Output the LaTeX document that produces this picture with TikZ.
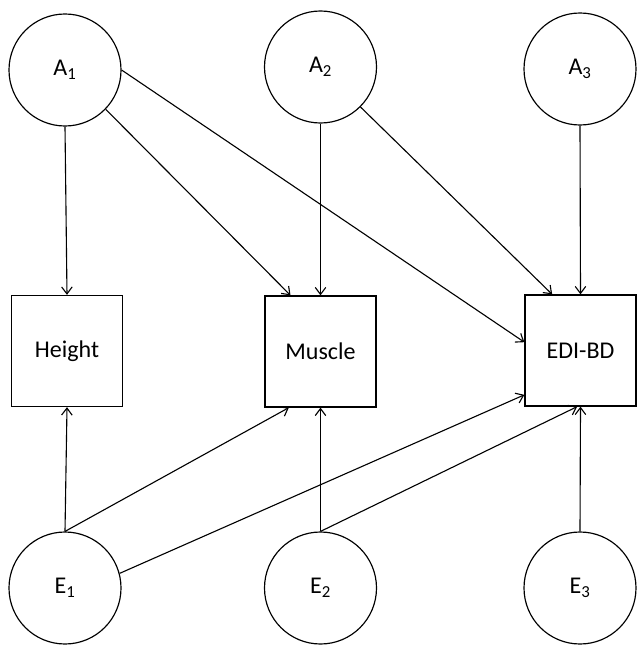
\documentclass[tikz,border=0pt]{standalone}
\usepackage{fontspec}
\setmainfont{Carlito}
\usetikzlibrary{arrows.meta}
\begin{document}
\begin{tikzpicture}[x = 0.03cm, y = -0.03cm,
		latent/.style = {draw, circle, line width = 1pt, minimum size = 3.36cm, inner sep = 0pt, font = \fontsize{20.5}{24}\selectfont},
		observed/.style = {draw, rectangle, line width = 1.1pt, minimum size = 3.33cm, inner sep = 0pt, font = \fontsize{20.5}{24}\selectfont},
		path/.style = {line width = 0.95pt, -{Straight Barb[length = 6pt, width = 9pt, line width = 0.95pt]}}]
		\useasboundingbox (0,0) rectangle (636,645);
		%
		\node[latent] (A1) at (65,70) {A\textsubscript{1}};
		\node[latent] (A2) at (320.5,67) {A\textsubscript{2}};
		\node[latent] (A3) at (580,69) {A\textsubscript{3}};
		%
		\node[observed] (Height) at (67,351) {Height};
		\node[observed] (Muscle) at (320.5,351.5) {Muscle};
		\node[observed] (EDIBD) at (580.5,350.5) {EDI-BD};
		%
		\node[latent] (E1) at (65,588) {E\textsubscript{1}};
		\node[latent] (E2) at (320.5,588) {E\textsubscript{2}};
		\node[latent] (E3) at (580,588) {E\textsubscript{3}};
		%
		\draw[path] (A1.south)--(Height.north);
		\draw[path] (A1.-44)--([xshift = -0.9cm]Muscle.north);
		\draw[path] (A1.east)--([yshift = 0.25cm]EDIBD.west);
		\draw[path] (A2.south)--(Muscle.north);
		\draw[path] (A2.-45)--([xshift = -0.85cm]EDIBD.north);
		\draw[path] (A3.south)--(EDIBD.north);
		%
		\draw[path] (E1.north)--(Height.south);
		\draw[path] (E1.north)--([xshift = -0.95cm]Muscle.south);
		\draw[path] (E1.15)--([yshift = -1.33cm]EDIBD.west);
		\draw[path] (E2.north)--(Muscle.south);
		\draw[path] (E2.north)--([xshift = -0.1cm]EDIBD.south);
		\draw[path] (E3.north)--(EDIBD.south);
		%
	\end{tikzpicture}
\end{document}
